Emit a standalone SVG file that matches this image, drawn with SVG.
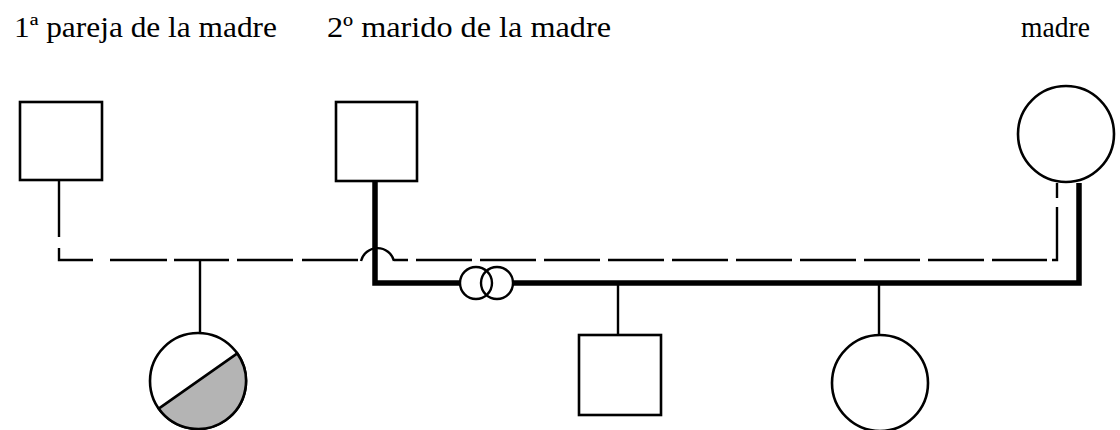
<svg xmlns="http://www.w3.org/2000/svg" width="1120" height="430" viewBox="0 0 1120 430">
<style>
.lbl{font-family:"Liberation Serif","Times New Roman",serif;font-size:30px;fill:#000}
.sh{fill:#fff;stroke:#000;stroke-width:2.6}
.ln{fill:none;stroke:#000;stroke-width:2.4}
.thick{fill:none;stroke:#000;stroke-width:5.5}
</style>
<rect width="1120" height="430" fill="#fff"/>
<g id="labels">
<text class="lbl" x="14" y="37" textLength="263" lengthAdjust="spacingAndGlyphs">1ª pareja de la madre</text>
<text class="lbl" x="327" y="37" textLength="284" lengthAdjust="spacingAndGlyphs">2º marido de la madre</text>
<text class="lbl" x="1021" y="37" textLength="69" lengthAdjust="spacingAndGlyphs">madre</text>
</g>
<g id="connectors">
<path class="ln" d="M59,180 V237 M59,248 V260 H93 M110,260 H167 M174,260 H229 M237,260 H293 M302,260 H358 M394,260 H408 M416,260 H472 M480,260 H536 M544,260 H600 M608,260 H664 M672,260 H728 M736,260 H792 M800,260 H856 M864,260 H920 M928,260 H984 M992,260 H1047 M1052,260 H1057 V207 M1057,198 V183"/>
<path class="ln" d="M200,260 V333"/>
<path class="thick" d="M375,181 V283 H460 M513,283 H1079 V183"/>
<path class="ln" d="M361,261 A17,17 0 0 1 394,261"/>
<circle class="ln" cx="476" cy="283" r="16"/>
<circle class="ln" cx="497" cy="283" r="16"/>
<path class="ln" d="M618,283 V335 M879,283 V335"/>
</g>
<g id="pareja1"><rect class="sh" x="20" y="102" width="82" height="78"/></g>
<g id="marido2"><rect class="sh" x="336" y="102" width="81" height="79"/></g>
<g id="madre"><circle class="sh" cx="1066" cy="134" r="48"/></g>
<g id="hija1">
<circle class="sh" cx="198" cy="381" r="48"/>
<path d="M158.7,408.6 A48,48 0 0 0 237.3,353.4 Z" fill="#b4b4b4" stroke="#000" stroke-width="2.6"/>
</g>
<g id="hijo2"><rect class="sh" x="579" y="335" width="82" height="80"/></g>
<g id="hija3"><circle class="sh" cx="880" cy="383" r="48"/></g>
</svg>
